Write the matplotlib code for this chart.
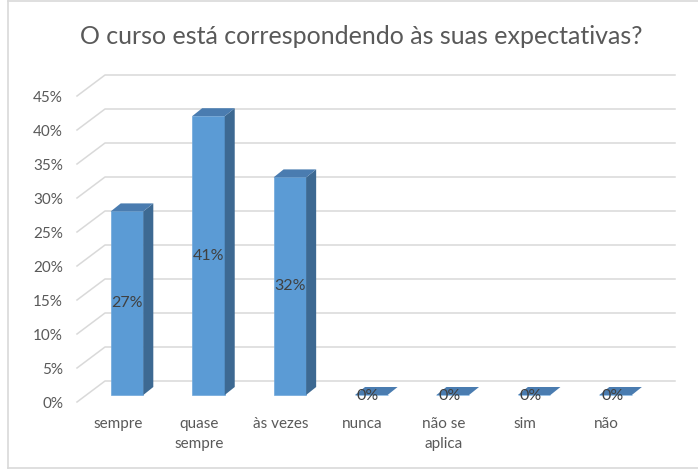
import matplotlib
matplotlib.use("Agg")
import matplotlib.pyplot as plt
from matplotlib.patches import Polygon
import numpy as np

plt.rcParams['font.family'] = ['Lato', 'DejaVu Sans']

categories = ["sempre", "quase\nsempre", "às vezes", "nunca", "não se\naplica", "sim", "não"]
values = [27, 41, 32, 0, 0, 0, 0]
value_labels = ["27%", "41%", "32%", "0%", "0%", "0%", "0%"]
yticks = [0, 5, 10, 15, 20, 25, 30, 35, 40, 45]
ytick_labels = ["0%", "5%", "10%", "15%", "20%", "25%", "30%", "35%", "40%", "45%"]
title = "O curso está correspondendo às suas expectativas?"

W, H = 698, 471
fig = plt.figure(figsize=(W / 100, H / 100), dpi=100)

# axes = front edge of the floor
x0, x1 = 77, 647
y0 = 402
pxper = 6.8
ytop = y0 - 45 * pxper
ax = fig.add_axes([x0 / W, (H - y0) / H, (x1 - x0) / W, (y0 - ytop) / H])
ax.set_xlim(-0.5, len(categories) - 0.5)
ax.set_ylim(0, 45)
for s in ax.spines.values():
    s.set_visible(False)

catpx = (x1 - x0) / len(categories)
# depth offsets (data units)
wall_dx, wall_dy = 28 / catpx, 21 / pxper
bar_dx, bar_dy = 9.3 / catpx, 7 / pxper
dep_dx, dep_dy = 10 / catpx, 8 / pxper

grid_c = '#d9d9d9'
xl, xr = -0.5, len(categories) - 0.5
for v in yticks:
    ax.plot([xl, xl + wall_dx, xr + wall_dx], [v, v + wall_dy, v + wall_dy],
            color=grid_c, lw=1.1, clip_on=False, zorder=1)

x = np.arange(len(categories))
bw = 0.4
front_c, side_c, top_c = '#5b9bd5', '#3d6992', '#4a7cb0'
ax.bar(x + bar_dx, values, width=bw, bottom=bar_dy, color=front_c,
       edgecolor='#6fa8dc', linewidth=0.5, zorder=3, clip_on=False)
for xi, v in zip(x, values):
    lft = xi + bar_dx - bw / 2
    rgt = xi + bar_dx + bw / 2
    top = bar_dy + v
    bot = bar_dy
    side = Polygon([[rgt, bot], [rgt + dep_dx, bot + dep_dy], [rgt + dep_dx, top + dep_dy], [rgt, top]],
                   closed=True, facecolor=side_c, edgecolor='none', zorder=3, clip_on=False)
    ax.add_patch(side)
    tp = Polygon([[lft, top], [rgt, top], [rgt + dep_dx, top + dep_dy], [lft + dep_dx, top + dep_dy]],
                 closed=True, facecolor=top_c, edgecolor='none', zorder=3, clip_on=False)
    ax.add_patch(tp)

for xi, v, lab in zip(x, values, value_labels):
    ax.text(xi + bar_dx - (0.04 if v == 0 else 0), bar_dy + v / 2 + (-0.2 if v == 0 else 0), lab,
            ha='center', va='center', fontsize=11.5, color='#404040', zorder=5)

ax.set_yticks(yticks)
ax.set_yticklabels(ytick_labels, fontsize=11, color='#595959')
ax.set_xticks(x)
ax.set_xticklabels(categories, fontsize=11, color='#595959', linespacing=1.55)
ax.tick_params(axis='y', length=0, pad=10)
ax.tick_params(axis='x', length=0, pad=11)
for t in ax.get_xticklabels():
    t.set_va('top')

fig.text(361 / W, 1 - 36 / H, title, ha='center', va='center', fontsize=18,
         color='#595959')

# chart border
bc = '#d9d9d9'
fig.add_artist(plt.Line2D([8 / W, 8 / W], [1 - 1 / H, 1 - 468 / H], color=bc, lw=1.2, transform=fig.transFigure))
fig.add_artist(plt.Line2D([8 / W, 1], [1 - 1 / H, 1 - 1 / H], color=bc, lw=1.2, transform=fig.transFigure))
fig.add_artist(plt.Line2D([8 / W, 1], [1 - 468 / H, 1 - 468 / H], color=bc, lw=1.2, transform=fig.transFigure))

fig.savefig("out.png", dpi=100)
